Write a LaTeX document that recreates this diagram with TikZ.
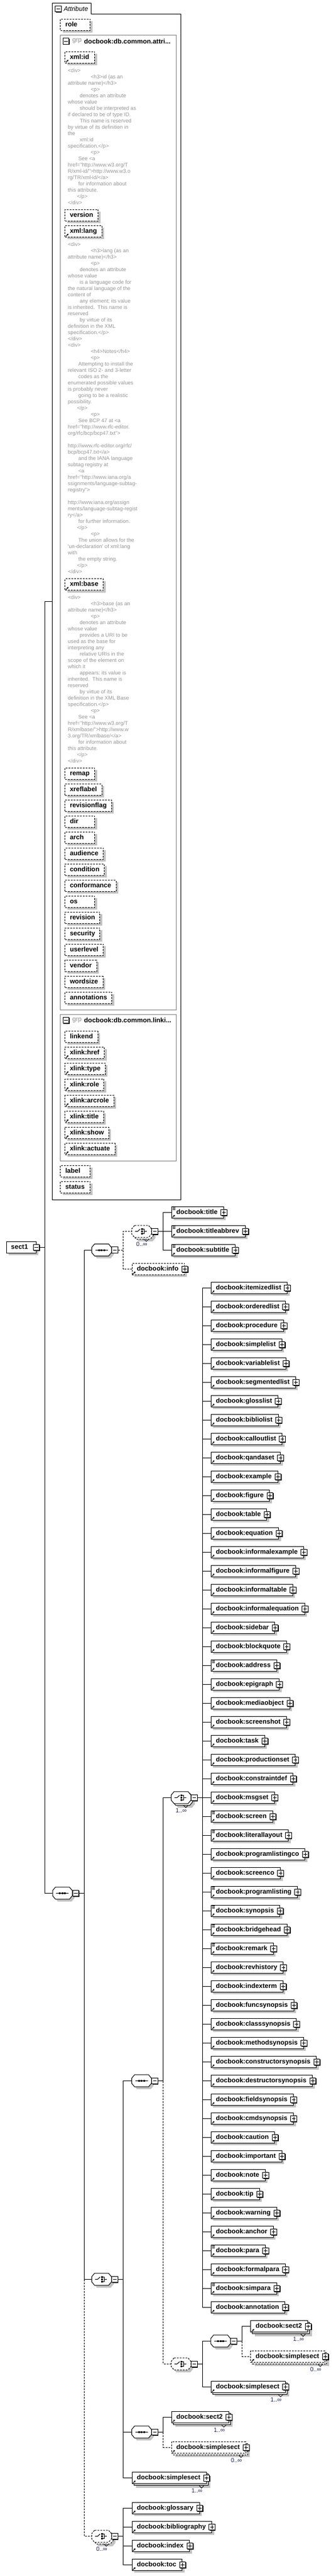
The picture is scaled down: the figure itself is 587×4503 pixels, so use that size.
\documentclass[tikz,border=0pt]{standalone}
\usepackage{fontspec}
\setmainfont{Liberation Sans}
\usetikzlibrary{positioning, calc, shadows, arrows.meta}

\definecolor{docgray}{gray}{0.58}
\definecolor{grpgray}{gray}{0.5}
\definecolor{shadegray}{gray}{0.76}
\definecolor{occurs}{rgb}{0.12,0.12,0.35}

\newcommand\indA{\hspace*{40pt}}
\newcommand\indB{\hspace*{20.7pt}}
\newcommand\indC{\hspace*{18.3pt}}
\newcommand\indD{\hspace*{16pt}}
\newcommand\qd{\textquotedbl}
% short names keep the common box width
\newcommand\minw[1]{\setbox0\hbox{#1}\ifdim\wd0<35pt\hbox to 35pt{\box0\hfil}\else\box0\fi}

\tikzset{
solo/.style={general shadow={fill=shadegray, shadow xshift=4pt, shadow yshift=-4pt}},
stack/.style={general shadow={fill=shadegray, shadow xshift=7pt, shadow yshift=-7pt},
  general shadow={draw, fill=white, shadow xshift=3pt, shadow yshift=-3pt}},
opt/.style={dash pattern=on 3pt off 2pt},
box/.style={draw, fill=white, anchor=west, minimum height=20pt, inner xsep=8.5pt,
  text height=8pt, text depth=2pt, font=\fontsize{11.5}{13}\selectfont\bfseries},
attr/.style={box, solo, opt},
elem/.style={box, solo, execute at end node={\hspace{2pt}}},
elems/.style={box, stack, execute at end node={\hspace{2pt}}},
doc/.style={anchor=north west, align=left, text=docgray, font=\fontsize{9.2}{11}\selectfont},
grpbox/.style={draw=grpgray, anchor=north west},
grptag/.style={anchor=west, text=docgray, font=\fontsize{11.5}{13}\selectfont},
grpname/.style={anchor=west, font=\fontsize{11.5}{13}\selectfont\bfseries},
tabtext/.style={anchor=west, font=\fontsize{11.5}{13}\selectfont\itshape},
occlabel/.style={anchor=north east, text=occurs, font=\fontsize{10.5}{12}\selectfont},
btn/.style={draw, solid, fill=white, minimum size=10.5pt,
  general shadow={fill=black, shadow xshift=1pt, shadow yshift=-1pt}},
minus/.style={btn, path picture={
  \draw ([xshift=2pt]path picture bounding box.west) -- ([xshift=-2pt]path picture bounding box.east);}},
plus/.style={btn, path picture={
  \draw ([xshift=2pt]path picture bounding box.west) -- ([xshift=-2pt]path picture bounding box.east);
  \draw ([yshift=-2pt]path picture bounding box.north) -- ([yshift=2pt]path picture bounding box.south);}},
comp/.style={minimum width=33.5pt, minimum height=20pt, anchor=west},
octpath/.style={insert path={([xshift=5pt]#1.north west) -- ([xshift=-5pt]#1.north east)
  -- ([yshift=-6pt]#1.north east) -- ([yshift=6pt]#1.south east) -- ([xshift=-5pt]#1.south east)
  -- ([xshift=5pt]#1.south west) -- ([yshift=6pt]#1.south west) -- ([yshift=-6pt]#1.north west) -- cycle}}
}

\newcommand\refmark[1]{\draw[solid, -{Triangle[length=2.6pt,width=3pt]}]
  ([xshift=2pt,yshift=1.5pt]#1.south west) -- ++(4.5pt,4.5pt);}
\newcommand\mixmark[1]{\foreach \mm in {2,4,6}
  \draw[solid, line width=0.8pt] ([xshift=2pt,yshift=-\mm pt]#1.north west) -- ++(5pt,0pt);}
\newcommand\plusbtn[1]{\node[plus] (#1-x) at (#1.east) {};}
\newcommand\minusbtn[2][center]{\node[minus, anchor=#1] (#2-m) at (#2.east) {};}
\newcommand\occ[2]{%
  \draw[solid, line width=0.8pt] ($(#1.south -| #1.east)+(-13pt,-3pt)$) -- ++(4pt,-4pt) -- ++(4pt,4pt);
  \node[occlabel] (#1-o) at ($(#1.south -| #1.east)+(-7pt,-8pt)$) {#2};}
\newcommand\branch[3][]{\draw[#1] (#2-m.east) -- ++(9pt,0pt) |- (#3.west);}
% compositor outlines
\newcommand\octagon[2][]{%
  \fill[shadegray, transform canvas={shift={(4pt,-4pt)}}, octpath=#2];
  \filldraw[fill=white, #1, octpath=#2];}
\newcommand\octagons[2][]{%
  \fill[shadegray, transform canvas={shift={(7pt,-7pt)}}, octpath=#2];
  \filldraw[fill=white, #1, transform canvas={shift={(3pt,-3pt)}}, octpath=#2];
  \filldraw[fill=white, #1, octpath=#2];}
\newcommand\seqicon[1]{%
  \draw ([xshift=-11pt]#1.center) -- ([xshift=11pt]#1.center);
  \foreach \dx in {-4.5,0,4.5}
    \fill ([xshift=\dx pt]#1.center) +(-1.5pt,-1.5pt) rectangle +(1.5pt,1.5pt);}
\newcommand\choiceicon[1]{%
  \draw ([xshift=-11.5pt]#1.center) -- ([xshift=-7pt]#1.center) -- ([xshift=-2.5pt,yshift=4pt]#1.center);
  \foreach \dy in {-4,0,4}
    \fill ([xshift=0.5pt,yshift=\dy pt]#1.center) +(-1.3pt,-1.3pt) rectangle +(1.3pt,1.3pt);
  \draw ([xshift=2.5pt,yshift=4pt]#1.center) -- ([xshift=4.5pt,yshift=4pt]#1.center)
    -- ([xshift=4.5pt,yshift=-4pt]#1.center) -- ([xshift=2.5pt,yshift=-4pt]#1.center);
  \draw ([xshift=4.5pt]#1.center) -- ([xshift=9.5pt]#1.center);}

\begin{document}
\begin{tikzpicture}[x=1pt, y=-1pt, line width=1pt, every node/.style={inner sep=0pt}]
\useasboundingbox (0,0) rectangle (587,4503);

% attribute panel
\node[minimum width=224.1pt, minimum height=2091.7pt, anchor=north west] (attrs) at (91.7,5) {};
\draw (attrs.north west) -- ++(67.6pt,0pt) -- ++(0pt,-19.3pt) -| (attrs.south east) -- (attrs.south west) -- cycle;
\node[minus] (attrs-m) at (102,15.5) {};
\node[tabtext] (attrs-t) at (111,15.5) {Attribute};
\node[attr] (role) at (105.3,43.3) {\minw{role}};

% group db.common.attributes
\node[grpbox, minimum width=202.2pt, minimum height=1704pt] (grpA) at (105.3,61) {};
\node[minus] (grpA-m) at (115.7,72) {};
\node[grptag] (grpA-g) at (126,72) {grp};
\node[grpname] (grpA-n) at (146.7,72) {docbook:db.common.attri...};

\node[attr] (xmlid) at (113.3,100) {\minw{xml:id}};
\refmark{xmlid}
\node[doc] (xmlid-doc) at (118.3,118.4) {\strut<div>\\
\indA<h3>id (as an\\
attribute name)</h3>\\
\indA<p>\\
\indB denotes an attribute\\
whose value\\
\indB should be interpreted as\\
if declared to be of type ID.\\
\indB This name is reserved\\
by virtue of its definition in\\
the\\
\indB xml:id\\
specification.</p>\\
\indA<p>\\
\indC See <a\\
href=\qd http://www.w3.org/T\\
R/xml-id/\qd>http://www.w3.o\\
rg/TR/xml-id/</a>\\
\indC for information about\\
this attribute.\\
\indD</p>\\
</div>};

\node[attr] (version) at (113.3,376.3) {\minw{version}};
\node[attr] (xmllang) at (113.3,404.2) {\minw{xml:lang}};
\refmark{xmllang}
\node[doc] (xmllang-doc) at (118.3,422.4) {\strut<div>\\
\indA<h3>lang (as an\\
attribute name)</h3>\\
\indA<p>\\
\indB denotes an attribute\\
whose value\\
\indB is a language code for\\
the natural language of the\\
content of\\
\indB any element; its value\\
is inherited.\ \ This name is\\
reserved\\
\indB by virtue of its\\
definition in the XML\\
specification.</p>\\
</div>\\
<div>\\
\indA<h4>Notes</h4>\\
\indA<p>\\
\indC Attempting to install the\\
relevant ISO 2- and 3-letter\\
\indC codes as the\\
enumerated possible values\\
is probably never\\
\indC going to be a realistic\\
possibility.\\
\indD</p>\\
\indA<p>\\
\indC See BCP 47 at <a\\
href=\qd http://www.rfc-editor.\\
org/rfc/bcp/bcp47.txt\qd>\\
\mbox{}\\
http://www.rfc-editor.org/rfc/\\
bcp/bcp47.txt</a>\\
\indC and the IANA language\\
subtag registry at\\
\indC<a\\
href=\qd http://www.iana.org/a\\
ssignments/language-subtag-\\
registry\qd>\\
\mbox{}\\
http://www.iana.org/assign\\
ments/language-subtag-regist\\
ry</a>\\
\indC for further information.\\
\indD</p>\\
\indA<p>\\
\indC The union allows for the\\
\textquotesingle un-declaration\textquotesingle\ of xml:lang\\
with\\
\indC the empty string.\\
\indD</p>\\
</div>};

\node[attr] (xmlbase) at (113.3,1021.7) {\minw{xml:base}};
\refmark{xmlbase}
\node[doc] (xmlbase-doc) at (118.3,1039.7) {\strut<div>\\
\indA<h3>base (as an\\
attribute name)</h3>\\
\indA<p>\\
\indB denotes an attribute\\
whose value\\
\indB provides a URI to be\\
used as the base for\\
interpreting any\\
\indB relative URIs in the\\
scope of the element on\\
which it\\
\indB appears; its value is\\
inherited.\ \ This name is\\
reserved\\
\indB by virtue of its\\
definition in the XML Base\\
specification.</p>\\
\indA<p>\\
\indC See <a\\
href=\qd http://www.w3.org/T\\
R/xmlbase/\qd>http://www.w\\
3.org/TR/xmlbase/</a>\\
\indC for information about\\
this attribute.\\
\indD</p>\\
</div>};

\foreach \a [count=\i from 0] in {remap, xreflabel, revisionflag, dir, arch, audience, condition,
    conformance, os, revision, security, userlevel, vendor, wordsize, annotations}
  \node[attr] (at-\a) at (113.3,{1352.3+28*\i}) {\minw{\a}};

% group db.common.linking.attributes
\node[grpbox, minimum width=202.2pt, minimum height=256pt] (grpB) at (105.3,1773.3) {};
\node[minus] (grpB-m) at (115.7,1783.3) {};
\node[grptag] (grpB-g) at (126,1783.3) {grp};
\node[grpname] (grpB-n) at (146.7,1783.3) {docbook:db.common.linki...};
\node[attr] (linkend) at (113.3,1812.3) {\minw{linkend}};
\foreach \a [count=\i] in {href, type, role, arcrole, title, show, actuate} {
  \node[attr] (xl-\a) at (113.3,{1812.3+28*\i}) {xlink:\a};
  \refmark{xl-\a}
}
\node[attr] (label) at (105.3,2047.3) {\minw{label}};
\node[attr] (status) at (105.3,2075.3) {\minw{status}};

% the element and its content model
\node[box, solo] (sect1) at (10.5,2180.3) {\minw{sect1}};
\minusbtn{sect1}
\branch{sect1}{attrs}

\node[comp] (seq0) at (92,3309.3) {};
\octagon{seq0} \seqicon{seq0} \minusbtn[west]{seq0}
\branch{sect1}{seq0}

% title block
\node[comp] (seq1) at (160.5,2185) {};
\octagon{seq1} \seqicon{seq1} \minusbtn[west]{seq1}
\branch{seq0}{seq1}
\node[comp] (choice1) at (230.5,2152.6) {};
\octagons[opt]{choice1} \choiceicon{choice1} \minusbtn[west]{choice1}
\occ{choice1}{0..∞}
\branch[opt]{seq1}{choice1}
\foreach \n/\yy in {title/2119.3, titleabbrev/2152.3, subtitle/2185.3} {
  \node[elem] (\n) at (299.6,\yy) {docbook:\n};
  \mixmark{\n} \refmark{\n} \plusbtn{\n}
  \branch{choice1}{\n}
}
\node[elem, opt] (info) at (230.5,2218.3) {docbook:info};
\refmark{info} \plusbtn{info}
\branch[opt]{seq1}{info}

% body block
\node[comp] (choice2) at (160.5,3984.3) {};
\octagon{choice2} \choiceicon{choice2} \minusbtn[west]{choice2}
\branch{seq0}{choice2}
\node[comp] (seq2) at (230.5,3637.3) {};
\octagon{seq2} \seqicon{seq2} \minusbtn[west]{seq2}
\branch{choice2}{seq2}
\node[comp] (choice3) at (299.6,3142.3) {};
\octagons{choice3} \choiceicon{choice3} \minusbtn[west]{choice3}
\occ{choice3}{1..∞}
\branch{seq2}{choice3}
\foreach \n/\mx [count=\k from 0] in {itemizedlist/0, orderedlist/0, procedure/0, simplelist/0,
    variablelist/0, segmentedlist/0, glosslist/0, bibliolist/0, calloutlist/0, qandaset/0,
    example/0, figure/0, table/0, equation/0, informalexample/0, informalfigure/0,
    informaltable/0, informalequation/0, sidebar/0, blockquote/0, address/1, epigraph/0,
    mediaobject/0, screenshot/0, task/0, productionset/0, constraintdef/0, msgset/0,
    screen/1, literallayout/1, programlistingco/0, screenco/0, programlisting/1, synopsis/1,
    bridgehead/1, remark/1, revhistory/0, indexterm/0, funcsynopsis/0, classsynopsis/0,
    methodsynopsis/0, constructorsynopsis/0, destructorsynopsis/0, fieldsynopsis/0,
    cmdsynopsis/0, caution/0, important/0, note/0, tip/0, warning/0, anchor/0, para/1,
    formalpara/0, simpara/1, annotation/0} {
  \node[elem] (blk\k) at (368.8,{2251.3+33*\k}) {docbook:\n};
  \ifnum\mx=1 \mixmark{blk\k}\fi
  \refmark{blk\k} \plusbtn{blk\k}
  \branch{choice3}{blk\k}
}

% nested sections
\node[comp] (choice4) at (299.6,4132.3) {};
\octagon[opt]{choice4} \choiceicon{choice4} \minusbtn[west]{choice4}
\branch[opt]{seq2}{choice4}
\node[comp] (seq3) at (368.8,4092.3) {};
\octagon{seq3} \seqicon{seq3} \minusbtn[west]{seq3}
\branch{choice4}{seq3}
\node[elems] (sect2a) at (438.3,4066.7) {docbook:sect2};
\refmark{sect2a} \plusbtn{sect2a} \occ{sect2a}{1..∞}
\branch{seq3}{sect2a}
\node[elems, opt] (ssA) at (438.3,4119.3) {docbook:simplesect};
\refmark{ssA} \plusbtn{ssA} \occ{ssA}{0..∞}
\branch[opt]{seq3}{ssA}
\node[elems] (ssB) at (368.8,4172.3) {docbook:simplesect};
\refmark{ssB} \plusbtn{ssB} \occ{ssB}{1..∞}
\branch{choice4}{ssB}

\node[comp] (seq4) at (230.5,4251.3) {};
\octagon{seq4} \seqicon{seq4} \minusbtn[west]{seq4}
\branch{choice2}{seq4}
\node[elems] (sect2b) at (299.6,4225.3) {docbook:sect2};
\refmark{sect2b} \plusbtn{sect2b} \occ{sect2b}{1..∞}
\branch{seq4}{sect2b}
\node[elems, opt] (ssC) at (299.6,4278.3) {docbook:simplesect};
\refmark{ssC} \plusbtn{ssC} \occ{ssC}{0..∞}
\branch[opt]{seq4}{ssC}
\node[elems] (ssD) at (230.5,4331.7) {docbook:simplesect};
\refmark{ssD} \plusbtn{ssD} \occ{ssD}{1..∞}
\branch{choice2}{ssD}

% back matter
\node[comp] (choice5) at (160.5,4433.5) {};
\octagons[opt]{choice5} \choiceicon{choice5} \minusbtn[west]{choice5}
\occ{choice5}{0..∞}
\branch[opt]{seq0}{choice5}
\foreach \n/\yy in {glossary/4384.3, bibliography/4417.3, index/4450.3, toc/4483.3} {
  \node[elem] (\n) at (230.5,\yy) {docbook:\n};
  \refmark{\n} \plusbtn{\n}
  \branch{choice5}{\n}
}
\end{tikzpicture}
\end{document}
